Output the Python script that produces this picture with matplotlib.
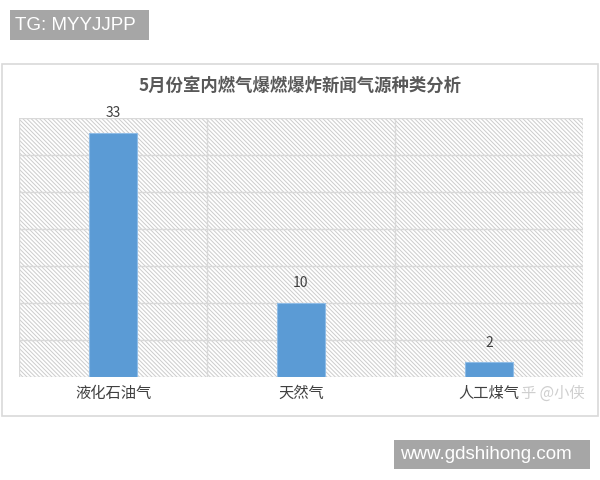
import matplotlib
matplotlib.use("Agg")
import matplotlib.pyplot as plt
from matplotlib.patches import Rectangle

plt.rcParams['font.family'] = ['Noto Sans CJK SC', 'DejaVu Sans']
plt.rcParams['hatch.color'] = '#cccccc'
plt.rcParams['hatch.linewidth'] = 0.7

title = "5月份室内燃气爆燃爆炸新闻气源种类分析"
categories = ["液化石油气", "天然气", "人工煤气"]
values = [33, 10, 2]
y_max = 35
y_step = 5
top_label = "TG: MYYJJPP"
bottom_label = "www.gdshihong.com"
watermark = "乎 @小侠"

W, H = 600, 480
fig = plt.figure(figsize=(6, 4.8), dpi=100)

def fx(px):
    return px / W

def fy(py):
    return 1 - py / H

# outer chart frame
fig.patches.append(Rectangle((fx(2), fy(416)), fx(596), (414 - 62) / H,
                             transform=fig.transFigure, fill=False,
                             edgecolor='#d9d9d9', linewidth=1.2))

ax = fig.add_axes([fx(19), fy(377), fx(583) - fx(19), (377 - 118) / H])
ax.set_xlim(-0.5, len(categories) - 0.5)
ax.set_ylim(0, y_max)

# hatched background
ax.add_patch(Rectangle((0, 0), 1, 1, transform=ax.transAxes, facecolor='white',
                       hatch='\\\\\\\\\\\\\\\\', edgecolor='#cccccc', linewidth=0, zorder=0))

for y in range(0, y_max + 1, y_step):
    ax.axhline(y, color='#d9d9d9', linewidth=1.0, zorder=1)
for i in range(len(categories) + 1):
    ax.axvline(i - 0.5, color='#d9d9d9', linewidth=1.0, zorder=1)

x = list(range(len(categories)))
bars = ax.bar(x, values, width=0.26, color='#5b9bd5', edgecolor='#8fbce6',
              linewidth=0.8, zorder=3)
for xi, v in zip(x, values):
    ax.text(xi, v + 1.7, str(v), ha='center', va='bottom', fontsize=10,
            color='#404040', zorder=4)

ax.set_xticks(x)
ax.set_xticklabels(categories, fontsize=11, color='#404040')
ax.tick_params(axis='x', length=0, pad=6)
ax.set_yticks([])
for s in ax.spines.values():
    s.set_visible(False)

fig.text(0.5, fy(86), title, ha='center', va='center', fontsize=12.5,
         fontweight='bold', color='#595959')

fig.text(fx(521), fy(393), watermark, ha='left', va='center', fontsize=11,
         color='#cfcfcf')

# top-left label box
fig.patches.append(Rectangle((fx(10), fy(40)), fx(139), 30 / H,
                             transform=fig.transFigure, facecolor='#a6a6a6',
                             edgecolor='none'))
fig.text(fx(15), fy(25), top_label, ha='left', va='center', fontsize=13.5,
         color='white', family=['Liberation Sans', 'DejaVu Sans'])

# bottom-right label box
fig.patches.append(Rectangle((fx(394), fy(469)), fx(196), 29 / H,
                             transform=fig.transFigure, facecolor='#a6a6a6',
                             edgecolor='none'))
fig.text(fx(400), fy(454.5), bottom_label, ha='left', va='center', fontsize=13.5,
         color='white', family=['Liberation Sans', 'DejaVu Sans'])

fig.savefig("out.png", dpi=100)
